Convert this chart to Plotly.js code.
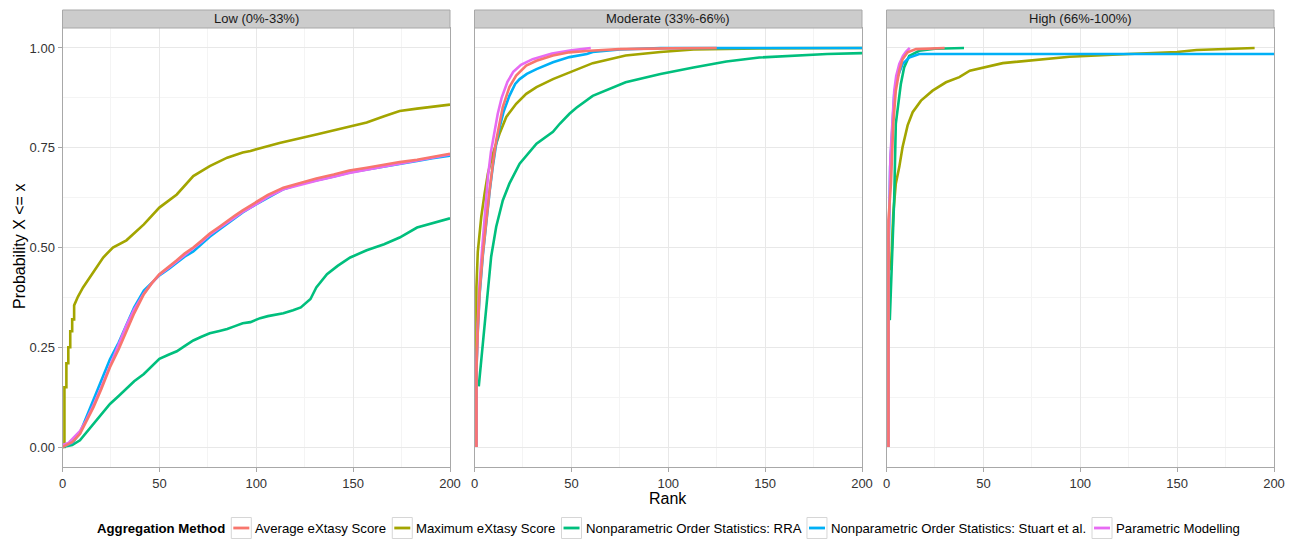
<!DOCTYPE html>
<html>
<head>
<meta charset="utf-8">
<script src="https://cdn.plot.ly/plotly-3.0.1.min.js"></script>
<style>html,body{margin:0;padding:0;background:#fff;}#chart{width:1299px;height:539px;}</style>
</head>
<body>
<div id="chart"></div>
<script>
// ---------- data ----------
const methods = ["Average eXtasy Score","Maximum eXtasy Score","Nonparametric Order Statistics: RRA","Nonparametric Order Statistics: Stuart et al.","Parametric Modelling"];
const legendTitle = "Aggregation Method";
const panels = ["Low (0%-33%)","Moderate (33%-66%)","High (66%-100%)"];
const xTicks = [0,50,100,150,200];
const yTicks = [0,0.25,0.5,0.75,1];

// Low panel
const lowAvgRank  = [0,5,9,12,16,20,24.5,29,33,37,42,46,50,55,59,63,67.5,72,76,81,85,89,93,97,102,106,114,123,131,140,148,157,166,174,183,191,200];
const lowAvgProb  = [0,0.012,0.033,0.06,0.10,0.145,0.20,0.245,0.29,0.335,0.383,0.41,0.433,0.452,0.468,0.485,0.50,0.518,0.535,0.552,0.567,0.58,0.593,0.605,0.62,0.632,0.65,0.663,0.673,0.683,0.693,0.70,0.708,0.714,0.72,0.727,0.735];
const lowStuRank  = [0,5,9,12,16,20,24.5,29,33,37,42,46,50,55,59,63,67.5,72,76,81,85,89,93,97,102,106,114,123,131,140,148,157,166,174,183,191,200];
const lowStuProb  = [0,0.01,0.035,0.07,0.117,0.165,0.22,0.262,0.305,0.35,0.392,0.41,0.43,0.447,0.462,0.477,0.49,0.51,0.527,0.545,0.56,0.573,0.588,0.6,0.613,0.625,0.646,0.66,0.668,0.678,0.688,0.695,0.703,0.71,0.717,0.724,0.73];
const lowParRank  = [0,3,5,9,12,16,20,24.5,29,33,37,42,46,50,55,59,63,67.5,72,76,81,85,89,93,97,102,106,114,123,131,140,148,157,166,174,183,191,200];
const lowParProb  = [0.005,0.01,0.02,0.04,0.065,0.105,0.15,0.205,0.26,0.305,0.345,0.385,0.41,0.432,0.45,0.466,0.482,0.498,0.515,0.532,0.549,0.563,0.576,0.589,0.6,0.614,0.627,0.646,0.658,0.667,0.677,0.687,0.695,0.703,0.71,0.718,0.725,0.733];
const lowRraRank  = [0,5,9,12,16,20,24.5,29,33,37,42,46,50,55,59,63,67.5,72,76,81,85,89,93,97,102,106,114,119,123,128,131,136.5,142,148.5,157,166,174,183,192,200];
const lowRraProb  = [0,0.005,0.017,0.035,0.058,0.082,0.108,0.128,0.146,0.165,0.183,0.202,0.221,0.232,0.24,0.253,0.267,0.277,0.285,0.291,0.296,0.303,0.31,0.313,0.323,0.328,0.335,0.343,0.35,0.371,0.40,0.433,0.454,0.475,0.493,0.508,0.525,0.55,0.5625,0.573];
const lowMaxRank  = [0,1,1,2,2,3,3,4,4,5,5,6,6,8,10.6,16,21,26,33,42,50,59,67.5,76,85,93,97,102,112,131,148.5,157,166,174,183,200];
const lowMaxProb  = [0,0,0.15,0.15,0.21,0.21,0.25,0.25,0.29,0.29,0.32,0.32,0.355,0.377,0.40,0.4375,0.475,0.50,0.518,0.558,0.60,0.633,0.679,0.704,0.725,0.738,0.742,0.749,0.762,0.783,0.802,0.813,0.829,0.842,0.848,0.858];

// Moderate panel
const modAvgRank  = [1,1,1.7,2.6,4.3,6,7.8,9.5,11.2,12.9,14.6,18,21.5,26.7,32,40.5,49,59.5,75,100,125];
const modAvgProb  = [0,0.193,0.293,0.385,0.485,0.568,0.643,0.71,0.768,0.81,0.852,0.902,0.931,0.956,0.968,0.981,0.989,0.993,0.997,0.999,1.0];
const modParRank  = [1,1,1.7,2.6,4,5.5,7,8.5,10.2,12,14,17,20,24,30,40,50,60];
const modParProb  = [0,0.2,0.31,0.41,0.5,0.6,0.68,0.74,0.79,0.835,0.875,0.915,0.94,0.958,0.972,0.986,0.994,1.0];
const modStuRank  = [1,1,1.7,2.6,4.3,6,7.8,9.5,11.2,12.9,15,18,21,23.3,27,32,40.5,49,58,61,75,96,200];
const modStuProb  = [0,0.19,0.29,0.38,0.48,0.565,0.64,0.705,0.76,0.8,0.84,0.88,0.91,0.922,0.935,0.947,0.964,0.977,0.985,0.99,0.996,0.9995,1.0];
const modMaxRank  = [1,1,1.7,3.5,5.2,6.9,9.5,12.9,16.4,21.5,26.7,32,40.5,49,61,78,96,113,147,200];
const modMaxProb  = [0,0.40,0.489,0.577,0.635,0.685,0.735,0.785,0.827,0.86,0.885,0.902,0.922,0.939,0.962,0.981,0.99,0.996,0.999,1.0];
const modRraRank  = [2.2,3.5,5.2,6.9,8.6,11.2,14.6,18,23.3,32,40.5,44,49,52.6,61,78,96,113,130,147,165,182,200];
const modRraProb  = [0.152,0.218,0.31,0.393,0.477,0.552,0.618,0.66,0.71,0.76,0.79,0.81,0.835,0.85,0.88,0.914,0.935,0.951,0.966,0.976,0.981,0.985,0.987];

// High panel
const highAvgRank = [1,1,2.3,3.5,4.8,6.6,8.3,10.9,15.2,30];
const highAvgProb = [0,0.568,0.66,0.81,0.893,0.943,0.972,0.989,0.997,1.0];
const highParRank = [1,1,1.5,2,3,4,5,6.6,8.5,10,12];
const highParProb = [0,0.52,0.6,0.726,0.81,0.893,0.93,0.96,0.98,0.99,1.0];
const highStuRank = [1,1,1.9,3.1,4,5.7,8.3,11.7,16.9,200];
const highStuProb = [0,0.45,0.702,0.793,0.885,0.927,0.96,0.976,0.985,0.985];
const highRraRank = [1.7,2.8,4,4.8,6.2,7.4,9.1,11.7,16.9,25,40];
const highRraProb = [0.318,0.468,0.626,0.81,0.868,0.91,0.951,0.98,0.993,0.998,1.0];
const highMaxRank = [2.3,3.5,4.8,6.6,8.3,10.9,13.5,17.8,23.8,30.7,37.6,43,60,77,94.5,125,150,160,175,190];
const highMaxProb = [0.443,0.585,0.66,0.702,0.752,0.806,0.839,0.868,0.893,0.914,0.927,0.943,0.962,0.97,0.978,0.985,0.99,0.995,0.998,1.0];

const colors = ["#F8766D","#A3A500","#00BF7D","#00B0F6","#E76BF3"];

// ---------- build ----------
const W = 1299, H = 539;
const dom = [[62.5/W, 450/W],[474.5/W, 862/W],[886.5/W, 1274/W]];
const yDom = [(H-467)/H, (H-28)/H];
const font = "Liberation Sans, Arial, sans-serif";
const px = v => v / W;
const py = v => (H - v) / H;

const seriesByPanel = [
  [[lowAvgRank,lowAvgProb],[lowMaxRank,lowMaxProb],[lowRraRank,lowRraProb],[lowStuRank,lowStuProb],[lowParRank,lowParProb]],
  [[modAvgRank,modAvgProb],[modMaxRank,modMaxProb],[modRraRank,modRraProb],[modStuRank,modStuProb],[modParRank,modParProb]],
  [[highAvgRank,highAvgProb],[highMaxRank,highMaxProb],[highRraRank,highRraProb],[highStuRank,highStuProb],[highParRank,highParProb]]
];
const drawOrder = [1,2,3,4,0]; // red drawn on top

const traces = [];
seriesByPanel.forEach((ser, p) => {
  drawOrder.forEach(m => {
    traces.push({
      type: "scatter", mode: "lines",
      x: ser[m][0], y: ser[m][1],
      xaxis: p === 0 ? "x" : "x" + (p+1),
      yaxis: p === 0 ? "y" : "y" + (p+1),
      name: methods[m], showlegend: false,
      line: {color: colors[m], width: 2.6},
      hoverinfo: "skip"
    });
  });
});

const layout = {
  width: W, height: H,
  margin: {l:0, r:0, t:0, b:0},
  paper_bgcolor: "#fff", plot_bgcolor: "#fff",
  font: {family: font, size: 13, color: "#333"},
  showlegend: false,
  shapes: [], annotations: []
};

for (let p = 0; p < 3; p++) {
  const xs = p === 0 ? "" : String(p+1);
  layout["xaxis"+xs] = {
    domain: dom[p], anchor: "y"+xs, range: [0,200],
    tickmode: "array", tickvals: xTicks, ticktext: xTicks.map(String),
    showgrid: true, gridcolor: "#e8e8e8", gridwidth: 1,
    minor: {tickmode: "array", tickvals: [25,75,125,175], showgrid: true, gridcolor: "#f4f4f4", gridwidth: 1, ticks: ""},
    zeroline: false, showline: true, linecolor: "#a8a8a8", linewidth: 1, mirror: true,
    ticks: "outside", ticklen: 4, tickcolor: "#a8a8a8", tickwidth: 1,
    tickfont: {size: 13, color: "#333", family: font}, fixedrange: true
  };
  layout["yaxis"+xs] = {
    domain: yDom, anchor: "x"+xs, range: [-0.05,1.05],
    tickmode: "array", tickvals: yTicks, ticktext: yTicks.map(v => v.toFixed(2)),
    showticklabels: p === 0, ticks: p === 0 ? "outside" : "", ticklen: 4, tickcolor: "#a8a8a8",
    showgrid: true, gridcolor: "#e8e8e8", gridwidth: 1,
    minor: {tickmode: "array", tickvals: [0.125,0.375,0.625,0.875], showgrid: true, gridcolor: "#f4f4f4", gridwidth: 1, ticks: ""},
    zeroline: false, showline: true, linecolor: "#a8a8a8", linewidth: 1, mirror: true,
    tickfont: {size: 13, color: "#333", family: font}, fixedrange: true
  };
  layout.shapes.push({
    type: "rect", xref: "paper", yref: "paper",
    x0: dom[p][0], x1: dom[p][1], y0: py(28), y1: py(10),
    fillcolor: "#cccccc", line: {color: "#a8a8a8", width: 1}
  });
  layout.annotations.push({
    xref: "paper", yref: "paper", x: (dom[p][0]+dom[p][1])/2, y: py(19),
    text: panels[p], showarrow: false, xanchor: "center", yanchor: "middle",
    font: {size: 13, color: "#1a1a1a", family: font}
  });
}
layout.annotations.push({
  xref: "paper", yref: "paper", x: px(668), y: py(498),
  text: "Rank", showarrow: false, xanchor: "center", yanchor: "middle",
  font: {size: 16, color: "#000", family: font}
});
layout.annotations.push({
  xref: "paper", yref: "paper", x: px(19), y: py(247),
  text: "Probability X &lt;= x", textangle: -90, showarrow: false, xanchor: "center", yanchor: "middle",
  font: {size: 16, color: "#000", family: font}
});

// ---------- ggplot-style legend (keys drawn as boxes with a line) ----------
const legSize = 13.2, legY = 528, boxW = 20, boxH = 21, gapBefore = 3, gapAfter = 5;
const ctx = document.createElement("canvas").getContext("2d");
function textW(t, bold) { ctx.font = (bold ? "bold " : "") + legSize + "px 'Liberation Sans'"; return ctx.measureText(t).width + 2; }
const titleW = textW(legendTitle, true);
const itemW = methods.map(m => textW(m, false));
let total = titleW + gapAfter;
itemW.forEach((w, i) => { total += boxW + gapBefore + w + (i < itemW.length - 1 ? gapAfter : 0); });
let cx = 668.5 - total / 2;
layout.annotations.push({
  xref: "paper", yref: "paper", x: px(cx), y: py(legY), xanchor: "left", yanchor: "middle",
  text: "<b>" + legendTitle + "</b>", showarrow: false, borderpad: 0, font: {size: legSize, color: "#000", family: font}
});
cx += titleW + gapAfter;
methods.forEach((m, i) => {
  layout.shapes.push({
    type: "rect", xref: "paper", yref: "paper",
    x0: px(cx), x1: px(cx + boxW), y0: py(legY + boxH/2), y1: py(legY - boxH/2),
    fillcolor: "#ffffff", line: {color: "#d6d6d6", width: 1}
  });
  layout.shapes.push({
    type: "line", xref: "paper", yref: "paper",
    x0: px(cx + 2), x1: px(cx + boxW - 2), y0: py(legY), y1: py(legY),
    line: {color: colors[i], width: 2.8}
  });
  cx += boxW + gapBefore;
  layout.annotations.push({
    xref: "paper", yref: "paper", x: px(cx), y: py(legY), xanchor: "left", yanchor: "middle",
    text: m, showarrow: false, borderpad: 0, font: {size: legSize, color: "#000", family: font}
  });
  cx += itemW[i] + gapAfter;
});

Plotly.newPlot("chart", traces, layout, {displayModeBar: false, staticPlot: true});
</script>
</body>
</html>
